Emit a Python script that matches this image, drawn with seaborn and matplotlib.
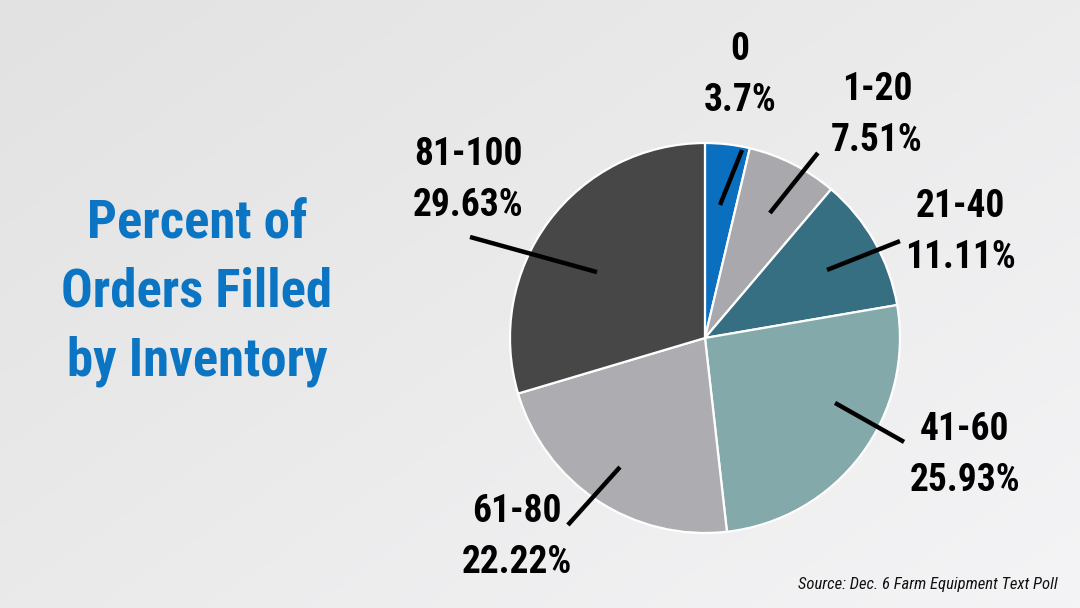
import numpy as np
import matplotlib
matplotlib.use("Agg")
import matplotlib.pyplot as plt
import seaborn as sns
from matplotlib.colors import LinearSegmentedColormap

# ---- data ----
categories = ["0", "1-20", "21-40", "41-60", "61-80", "81-100"]
percents = [3.7, 7.51, 11.11, 25.93, 22.22, 29.63]
colors = ["#0b6fbf", "#a9a9ad", "#366f82", "#83a9ab", "#adadb1", "#474747"]
title_lines = ["Percent of", "Orders Filled", "by Inventory"]
source = "Source: Dec. 6 Farm Equipment Text Poll"

# ---- label layout (axes data coords, pie radius = 1) ----
leader_inner = [(0.077, 0.682), (0.333, 0.641), (0.626, 0.349),
                (0.667, -0.333), (-0.436, -0.662), (-0.554, 0.338)]
leader_outer = [(0.19, 0.964), (0.579, 0.949), (1.0, 0.497),
                (1.021, -0.533), (-0.703, -0.959), (-1.205, 0.518)]
text_pos = [(0.18, 1.35), (0.882, 1.144), (1.308, 0.544),
            (1.333, -0.60), (-0.964, -1.021), (-1.215, 0.81)]

sns.set_theme(style="white")
cond = ["Liberation Sans Narrow", "Roboto Condensed", "Roboto", "DejaVu Sans"]
plt.rcParams["font.family"] = cond

fig = plt.figure(figsize=(10.8, 6.08), dpi=100)

# background gradient
bg = fig.add_axes([0, 0, 1, 1], zorder=0)
yy, xx = np.mgrid[0:1:200j, 0:1:360j]
grad = 0.55 * xx + 0.45 * yy
cmap = LinearSegmentedColormap.from_list("bg", ["#e2e2e2", "#f4f4f6"])
bg.imshow(grad, cmap=cmap, aspect="auto", extent=[0, 1, 0, 1], origin="upper")
bg.set_axis_off()

ax = fig.add_axes([0.4722, 0.1234, 0.3611, 0.6414], zorder=1)
ax.pie(percents, colors=colors, startangle=90, counterclock=False, radius=1,
       wedgeprops=dict(edgecolor="white", linewidth=1.6))
ax.set_xlim(-1, 1)
ax.set_ylim(-1, 1)
ax.set_aspect("equal")
ax.set_axis_off()

for cat, pct, pi, po, tp in zip(categories, percents, leader_inner, leader_outer, text_pos):
    ax.plot([pi[0], po[0]], [pi[1], po[1]], color="black", lw=3.2,
            solid_capstyle="butt", clip_on=False, zorder=5)
    ax.text(tp[0], tp[1], f"{cat}\n{pct}%", ha="center", va="center",
            fontsize=27, fontweight="bold", color="black", linespacing=1.5,
            clip_on=False, zorder=6)

fig.text(197 / 1080, 1 - 292 / 608, "\n".join(title_lines), ha="center", va="center",
         fontsize=38, fontweight="bold", color="#0b75c4", linespacing=1.45)

fig.text(1058 / 1080, 1 - 584 / 608, source, ha="right", va="center",
         fontsize=12, style="italic", color="#111111")

fig.savefig("out.png", dpi=100)
